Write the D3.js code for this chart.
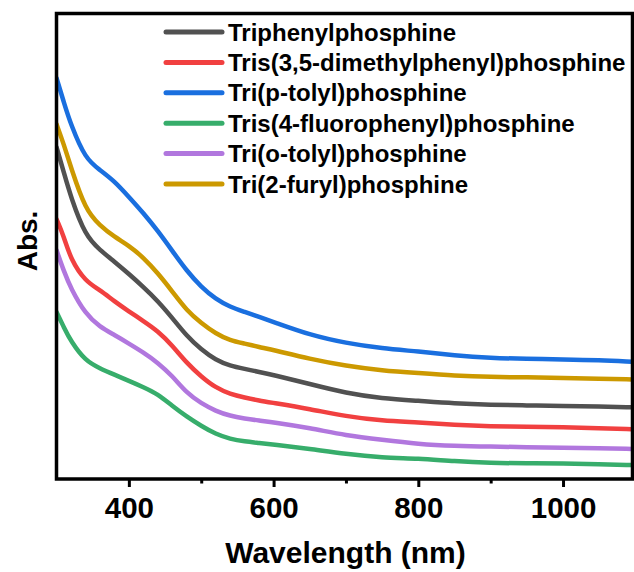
<!DOCTYPE html>
<html>
<head>
<meta charset="utf-8">
<script src="https://cdn.jsdelivr.net/npm/d3@7"></script>
<style>
  html, body { margin: 0; padding: 0; background: #fff; }
  svg { display: block; font-family: "Liberation Sans", Arial, sans-serif; font-weight: bold; }
</style>
</head>
<body>
<svg id="chart" width="634" height="572"></svg>
<script>
// UV-Vis absorption spectra of phosphine ligands (arbitrary absorbance units)
const wavelengths = [300, 310, 320, 340, 360, 380, 400, 420, 440, 460, 480, 500, 520, 540, 560, 580, 600, 650, 700, 750, 800, 850, 900, 950, 1000, 1050, 1095];

const triphenyl      = [1.426, 1.319, 1.209, 1.044, 0.984, 0.934, 0.881, 0.825, 0.765, 0.692, 0.614, 0.556, 0.511, 0.486, 0.473, 0.460, 0.447, 0.408, 0.369, 0.346, 0.336, 0.325, 0.319, 0.316, 0.314, 0.311, 0.308];
const dimethylphenyl = [1.117, 1.044, 0.941, 0.849, 0.812, 0.763, 0.720, 0.679, 0.636, 0.574, 0.498, 0.440, 0.392, 0.365, 0.350, 0.337, 0.327, 0.301, 0.269, 0.250, 0.243, 0.232, 0.226, 0.225, 0.222, 0.218, 0.214];
const pTolyl         = [1.723, 1.620, 1.521, 1.375, 1.328, 1.280, 1.212, 1.143, 1.066, 0.980, 0.894, 0.825, 0.773, 0.739, 0.718, 0.696, 0.675, 0.619, 0.584, 0.561, 0.548, 0.531, 0.520, 0.516, 0.514, 0.511, 0.504];
const fluorophenyl   = [0.718, 0.653, 0.591, 0.507, 0.475, 0.448, 0.422, 0.395, 0.365, 0.314, 0.268, 0.228, 0.193, 0.172, 0.161, 0.155, 0.148, 0.129, 0.107, 0.092, 0.088, 0.076, 0.069, 0.067, 0.067, 0.064, 0.060];
const oTolyl         = [0.984, 0.894, 0.818, 0.709, 0.653, 0.619, 0.582, 0.544, 0.500, 0.443, 0.369, 0.325, 0.292, 0.271, 0.260, 0.251, 0.243, 0.219, 0.187, 0.168, 0.150, 0.142, 0.139, 0.137, 0.134, 0.132, 0.129];
const furyl          = [1.525, 1.439, 1.338, 1.156, 1.089, 1.040, 1.003, 0.952, 0.885, 0.806, 0.724, 0.670, 0.625, 0.595, 0.582, 0.567, 0.554, 0.516, 0.486, 0.466, 0.455, 0.444, 0.438, 0.437, 0.434, 0.430, 0.428];

const seriesNames = [
  "Triphenylphosphine",
  "Tris(3,5-dimethylphenyl)phosphine",
  "Tri(p-tolyl)phosphine",
  "Tris(4-fluorophenyl)phosphine",
  "Tri(o-tolyl)phosphine",
  "Tri(2-furyl)phosphine"
];
const seriesValues = [triphenyl, dimethylphenyl, pTolyl, fluorophenyl, oTolyl, furyl];
const seriesColors = ["#515151", "#F14040", "#1A6FDF", "#37AD6B", "#B177DE", "#CC9900"];

const majorTicks = [400, 600, 800, 1000];
const minorTicks = [500, 700, 900];
const xDomain = [300, 1096];
const yDomain = [0, 2.0];

const margin = { left: 56.5, right: 632.5, top: 13.5, bottom: 479 };

const svg = d3.select("#chart");

const x = d3.scaleLinear().domain(xDomain).range([margin.left, margin.right]);
const y = d3.scaleLinear().domain(yDomain).range([margin.bottom, margin.top]);

// clip spectra to the plot box
svg.append("defs").append("clipPath").attr("id", "plot-clip")
  .append("rect")
  .attr("x", margin.left).attr("y", margin.top)
  .attr("width", margin.right - margin.left)
  .attr("height", margin.bottom - margin.top);

const line = d3.line()
  .x(d => x(d[0]))
  .y(d => y(d[1]))
  .curve(d3.curveBasis);

const spectra = svg.append("g").attr("clip-path", "url(#plot-clip)");
seriesValues.forEach((vals, i) => {
  spectra.append("path")
    .datum(wavelengths.map((w, k) => [w, vals[k]]))
    .attr("fill", "none")
    .attr("stroke", seriesColors[i])
    .attr("stroke-width", 4.5)
    .attr("stroke-linejoin", "round")
    .attr("stroke-linecap", "round")
    .attr("d", line);
});

// frame
svg.append("rect")
  .attr("x", margin.left).attr("y", margin.top)
  .attr("width", margin.right - margin.left)
  .attr("height", margin.bottom - margin.top)
  .attr("fill", "none")
  .attr("stroke", "#000")
  .attr("stroke-width", 3.5);

// bottom axis: major and minor ticks
const xAxis = svg.append("g")
  .attr("transform", `translate(0,${margin.bottom})`)
  .call(d3.axisBottom(x).tickValues(majorTicks).tickSize(8).tickPadding(10).tickFormat(d3.format("d")));
xAxis.select(".domain").remove();
xAxis.selectAll(".tick line").attr("stroke", "#000").attr("stroke-width", 3);
xAxis.selectAll(".tick text")
  .attr("fill", "#000")
  .style("font-size", "29.5px")
  .style("font-family", "'Liberation Sans', Arial, sans-serif")
  .style("font-weight", "bold");

const xMinor = svg.append("g")
  .attr("transform", `translate(0,${margin.bottom})`)
  .call(d3.axisBottom(x).tickValues(minorTicks).tickSize(4.5).tickFormat(""));
xMinor.select(".domain").remove();
xMinor.selectAll(".tick line").attr("stroke", "#000").attr("stroke-width", 3);

// axis titles
svg.append("text")
  .attr("x", (margin.left + margin.right) / 2 + 1)
  .attr("y", 563)
  .attr("text-anchor", "middle")
  .style("font-size", "30px")
  .text("Wavelength (nm)");

svg.append("text")
  .attr("transform", "translate(37,241) rotate(-90)")
  .attr("text-anchor", "middle")
  .style("font-size", "28px")
  .text("Abs.");

// legend
const legend = svg.append("g");
seriesNames.forEach((name, i) => {
  const cy = 32 + i * 30.4;
  legend.append("line")
    .attr("x1", 166).attr("x2", 222)
    .attr("y1", cy).attr("y2", cy)
    .attr("stroke", seriesColors[i])
    .attr("stroke-width", 5)
    .attr("stroke-linecap", "round");
  legend.append("text")
    .attr("x", 228)
    .attr("y", cy + 8.5)
    .style("font-size", "24px")
    .text(name);
});
</script>
</body>
</html>
